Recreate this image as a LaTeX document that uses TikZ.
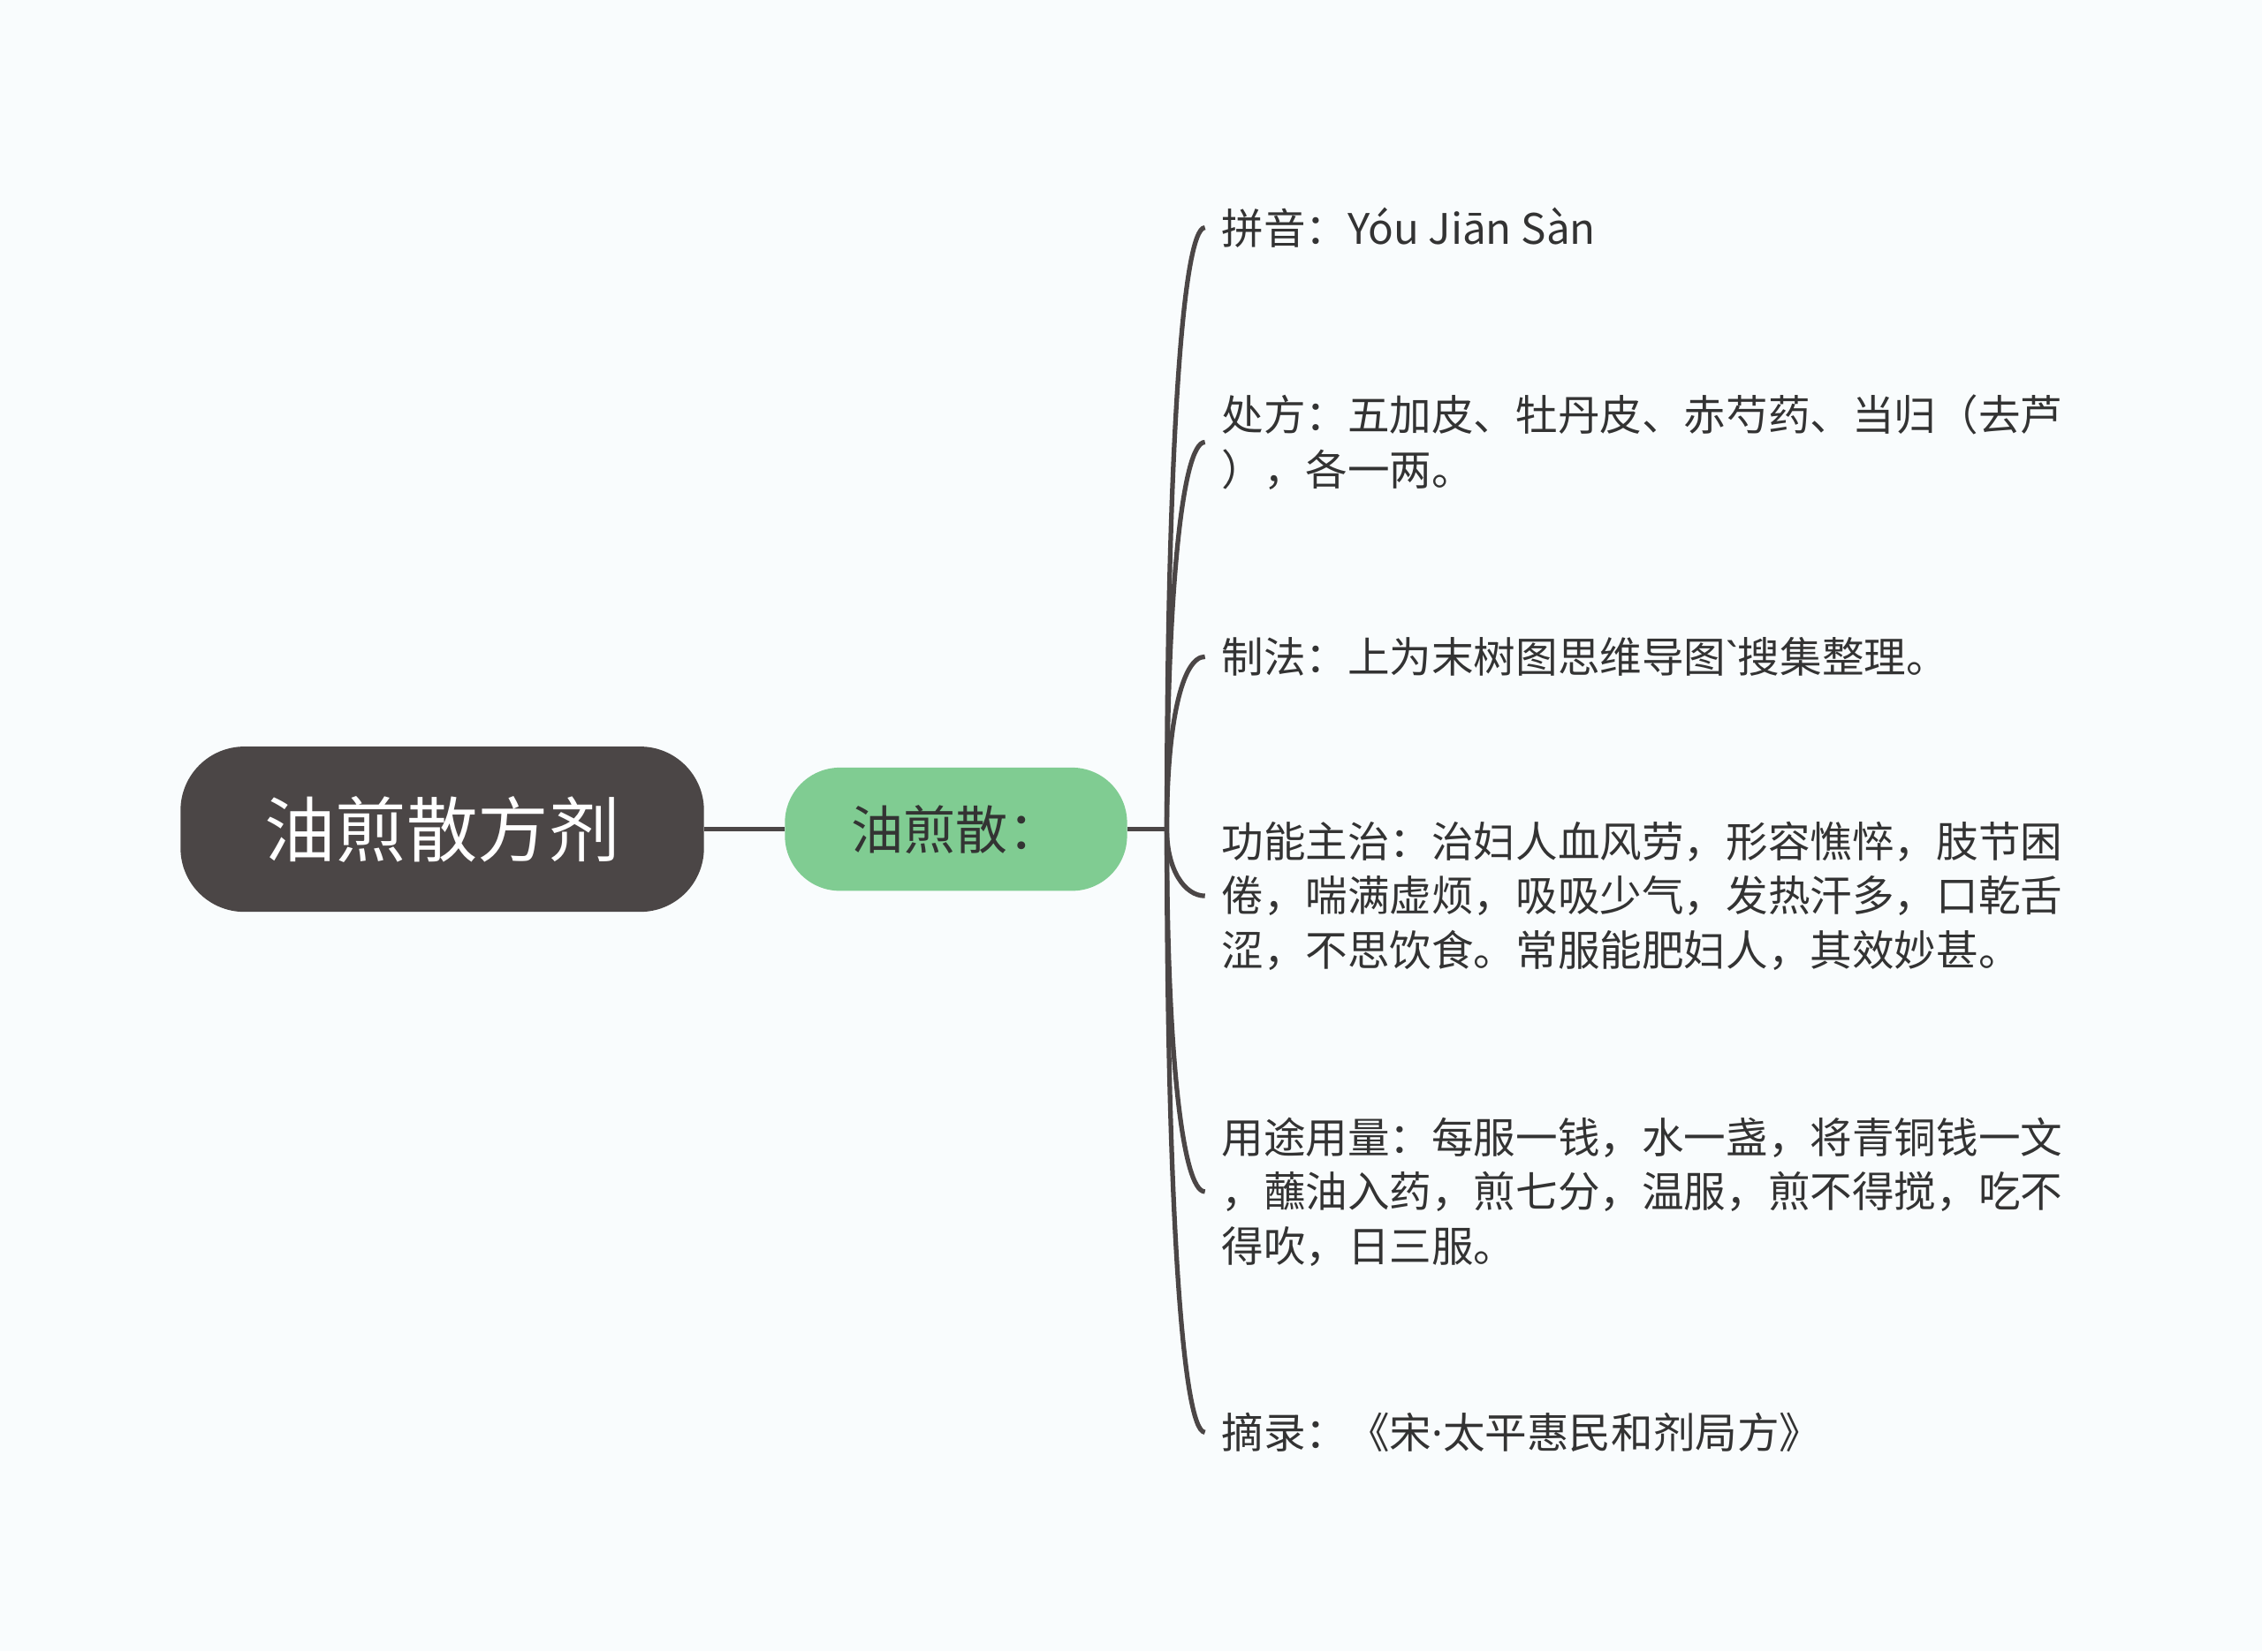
\documentclass[tikz,border=0pt]{standalone}
\usepackage{fontspec}
\setmainfont{Noto Sans CJK SC}[Ligatures=TeXOff]
\newfontfamily\latinfont{Noto Sans}
\usetikzlibrary{positioning}
\definecolor{rootgray}{HTML}{4B4646}
\definecolor{subgreen}{HTML}{80CC92}
\definecolor{textgray}{HTML}{333333}
\definecolor{paper}{HTML}{F9FCFD}
\begin{document}
\begin{tikzpicture}[x=0.5pt, y=0.5pt,
  root/.style = {shape=rectangle, rounded corners=22pt, fill=rootgray, text=white,
    minimum width=180.5pt, minimum height=57pt, font=\fontsize{24.5}{28}\selectfont},
  sub/.style = {shape=rectangle, rounded corners=19pt, fill=subgreen, text=textgray,
    minimum width=118pt, minimum height=42.5pt, font=\fontsize{18}{22}\selectfont},
  leaf/.style = {anchor=west, align=left, inner xsep=5.5pt, inner ysep=0pt,
    text=textgray, font=\fontsize{14.5}{18.75}\selectfont},
  link/.style = {draw=rootgray, line width=1.6pt},
  branch/.style = {link, in=180, in distance=8pt}]
  \fill[paper] (0,0) rectangle (1560,1139);
  \node[root] (root) at (305,567) {油煎散方剂};
  \node[sub, right=27.5pt of root] (yjs) {油煎散：};
  \coordinate[right=13.5pt of yjs] (hub);
  % leaves
  \node[leaf] (pinyin) at (831,982) {拼音：Yóu Jiān Sàn};
  \node[leaf] (chufang) at (831,834) {处方：五加皮、牡丹皮、赤芍药、当归（去芦\\），各一两。};
  \node[leaf] (zhifa) at (831,686) {制法：上为末树图思维导图{\latinfont\char"60}搜集整理。};
  \node[leaf] (gongneng) at (831,521) {功能主治：治妇人血风劳，形容憔悴，肢节困\\倦，喘满虚烦，吸吸少气，发热汗多，口乾舌\\涩，不思饮食。常服能肥妇人，其效妙甚。};
  \node[leaf] (yongtu) at (831,317) {用途用量：每服一钱，水一盏，将青铜钱一文\\，蘸油入药，煎七分，温服，煎不得搅，吃不\\得吹，日三服。};
  \node[leaf] (zhailu) at (831,151) {摘录：《宋{\latinfont ·}太平惠民和剂局方》};
  % connectors
  \draw[link] (root) -- (yjs);
  \draw[link] (yjs) -- (hub);
  \draw[branch, out=90, out distance=125pt] (hub) to (pinyin.west);
  \draw[branch, out=90, out distance=80pt] (hub) to (chufang.west);
  \draw[branch, out=90, out distance=36pt] (hub) to (zhifa.west);
  \draw[branch, out=-90, out distance=14pt, in distance=7pt] (hub) to (gongneng.west);
  \draw[branch, out=-90, out distance=75pt] (hub) to (yongtu.west);
  \draw[branch, out=-90, out distance=125pt] (hub) to (zhailu.west);
\end{tikzpicture}
\end{document}
